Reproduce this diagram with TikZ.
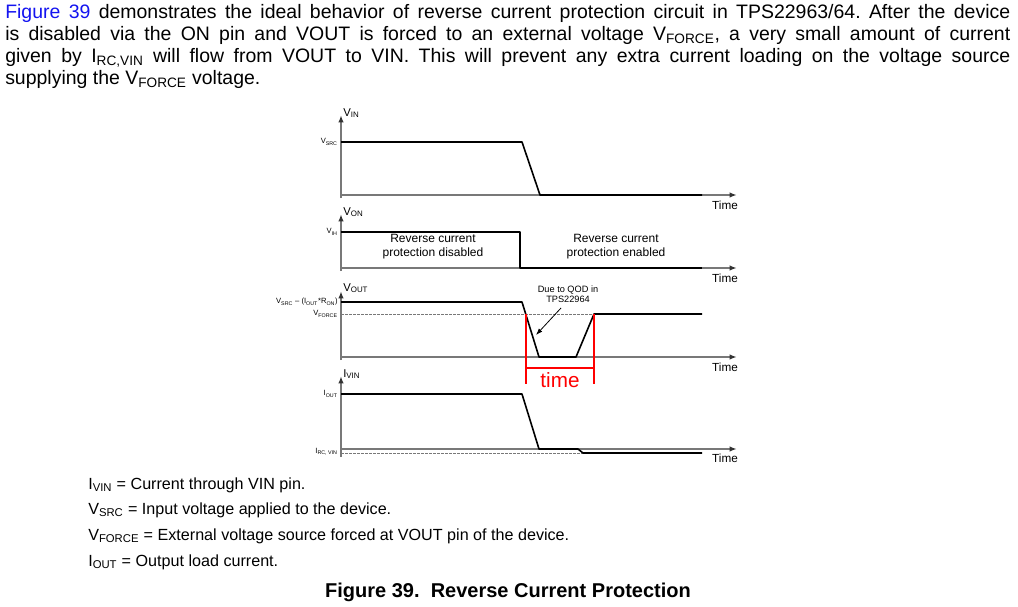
\documentclass[tikz,border=0pt]{standalone}
\usepackage{fontspec}
\setmainfont{Liberation Sans}
\usetikzlibrary{arrows.meta}
\definecolor{linkblue}{RGB}{20,20,240}
\definecolor{axisgray}{RGB}{120,120,120}
\begin{document}
\begin{tikzpicture}[x=0.75pt,y=-0.75pt,
  axis/.style={draw=axisgray, line width=1.1pt, -{Latex[length=5.5pt,width=4pt,color=black!80]}},
  trace/.style={draw=black, line width=1.2pt, line join=round},
  lvl/.style={draw=axisgray, line width=0.7pt, dash pattern=on 2pt off 1pt},
  redline/.style={draw=red, line width=0.9pt},
  tlab/.style={font=\fontsize{8.8}{10}\selectfont, inner sep=0},
  ylab/.style={font=\fontsize{8.5}{9}\selectfont, inner sep=0, anchor=base west},
  llab/.style={font=\fontsize{5.7}{6}\selectfont, inner sep=0, anchor=east},
  note/.style={font=\fontsize{9}{10.5}\selectfont, inner sep=0, align=center},
  legend/.style={font=\fontsize{12.1}{13}\selectfont, inner sep=0, anchor=base west}]
\useasboundingbox (0,0) rectangle (1018,607);

% ---------- paragraph ----------
\node[anchor=north west, text width=753.75pt, inner sep=0, align=justify,
      font=\fontsize{14.6}{16.5}\selectfont] (para) at (5,4)
 {\frenchspacing\hyphenpenalty=10000 \textcolor{linkblue}{Figure 39} demonstrates the ideal behavior of reverse current protection circuit in TPS22963/64. After the device\linebreak
  is disabled via the ON pin and VOUT is forced to an external voltage V\textsubscript{FORCE}, a very small amount of current\linebreak
  given by I\textsubscript{RC,VIN} will flow from VOUT to VIN. This will prevent any extra current loading on the voltage source\linebreak
  supplying the V\textsubscript{FORCE} voltage.};

% ---------- panel 1 : VIN ----------
\coordinate (b1) at (341,198); \coordinate (y1) at (341,115);
\coordinate (o1) at (341,195); \coordinate (x1) at (737,195);
\draw[axis] (b1) -- (y1);
\draw[axis] (o1) -- (x1);
\coordinate (p1a) at (341,142); \coordinate (p1b) at (522,142);
\coordinate (p1c) at (540,195); \coordinate (p1d) at (702,195);
\draw[trace] (p1a) -- (p1b) -- (p1c) -- (p1d);
\node[ylab] (lvin) at (343,116) {V\textsubscript{IN}};
\node[llab] (lvsrc) at (338,142) {V\textsubscript{SRC}};
\node[tlab] (t1) at (725,205) {Time};

% ---------- panel 2 : VON ----------
\coordinate (b2) at (341,271); \coordinate (y2) at (341,214);
\coordinate (o2) at (341,268); \coordinate (x2) at (737,268);
\draw[axis] (b2) -- (y2);
\draw[axis] (o2) -- (x2);
\coordinate (p2a) at (341,232); \coordinate (p2b) at (520,232);
\coordinate (p2c) at (520,268); \coordinate (p2d) at (702,268);
\draw[trace] (p2a) -- (p2b) -- (p2c) -- (p2d);
\node[ylab] (lvon) at (343,215) {V\textsubscript{ON}};
\node[llab] (lvih) at (338,232) {V\textsubscript{IH}};
\node[note] (dis) at (433,247) {Reverse current\\protection disabled};
\node[note] (ena) at (616,247) {Reverse current\\protection enabled};
\node[tlab] (t2) at (725,278) {Time};

% ---------- panel 3 : VOUT ----------
\coordinate (b3) at (341,360); \coordinate (y3) at (341,291);
\coordinate (o3) at (341,357); \coordinate (x3) at (737,357);
\draw[axis] (b3) -- (y3);
\draw[axis] (o3) -- (x3);
\coordinate (d3a) at (341,314); \coordinate (d3b) at (594,314);
\draw[lvl] (d3a) -- (d3b);
\coordinate (p3a) at (341,302); \coordinate (p3b) at (522,302);
\coordinate (p3c) at (539,357); \coordinate (p3d) at (576,357);
\coordinate (p3e) at (594,314); \coordinate (p3f) at (702,314);
\draw[trace] (p3a) -- (p3b) -- (p3c) -- (p3d) -- (p3e) -- (p3f);
\node[ylab] (lvout) at (343,291) {V\textsubscript{OUT}};
\node[llab] (lvdrop) at (338,302) {V\textsubscript{SRC} -- (I\textsubscript{OUT}*R\textsubscript{ON})};
\node[llab] (lvforce) at (338,314) {V\textsubscript{FORCE}};
\node[tlab] (t3) at (725,367) {Time};
% QOD note
\node[font=\fontsize{6.9}{7.5}\selectfont, inner sep=0, align=center] (qod) at (568,294) {Due to QOD in\\TPS22964};
\coordinate (qa) at (561,308); \coordinate (qb) at (536,335);
\draw[line width=0.6pt, -{Latex[length=5pt,width=3.5pt]}] (qa) -- (qb);
% red time marker
\coordinate (r1a) at (526,314); \coordinate (r1b) at (526,384);
\coordinate (r2a) at (594,314); \coordinate (r2b) at (594,384);
\coordinate (r3a) at (526,368); \coordinate (r3b) at (594,368);
\draw[redline] (r1a) -- (r1b);
\draw[redline] (r2a) -- (r2b);
\draw[redline] (r3a) -- (r3b);
\node[text=red, font=\fontsize{15.5}{16}\selectfont, inner sep=0] (tm) at (560,380) {time};

% ---------- panel 4 : IVIN ----------
\coordinate (b4) at (341,457); \coordinate (y4) at (341,376);
\coordinate (o4) at (341,449); \coordinate (x4) at (737,449);
\draw[axis] (b4) -- (y4);
\draw[axis] (o4) -- (x4);
\coordinate (d4a) at (341,453); \coordinate (d4b) at (583,453);
\draw[lvl] (d4a) -- (d4b);
\coordinate (p4a) at (341,394); \coordinate (p4b) at (522,394);
\coordinate (p4c) at (539,449); \coordinate (p4d) at (578,449);
\coordinate (p4e) at (583,453); \coordinate (p4f) at (702,453);
\draw[trace] (p4a) -- (p4b) -- (p4c) -- (p4d) -- (p4e) -- (p4f);
\node[ylab] (livin) at (343,377) {I\textsubscript{VIN}};
\node[llab] (liout) at (338,394) {I\textsubscript{OUT}};
\node[llab] (lirc) at (338,452) {I\textsubscript{RC, VIN}};
\node[tlab] (t4) at (725,458) {Time};

% ---------- legend ----------
\node[legend] (lg1) at (88,489) {I\textsubscript{VIN} = Current through VIN pin.};
\node[legend] (lg2) at (88,514) {V\textsubscript{SRC} = Input voltage applied to the device.};
\node[legend] (lg3) at (88,540) {V\textsubscript{FORCE} = External voltage source forced at VOUT pin of the device.};
\node[legend] (lg4) at (88,566) {I\textsubscript{OUT} = Output load current.};

% ---------- caption ----------
\node[anchor=base, inner sep=0, font=\bfseries\fontsize{15}{16}\selectfont] (cap) at (508,597) {Figure 39.\ \ Reverse Current Protection};
\end{tikzpicture}
\end{document}
